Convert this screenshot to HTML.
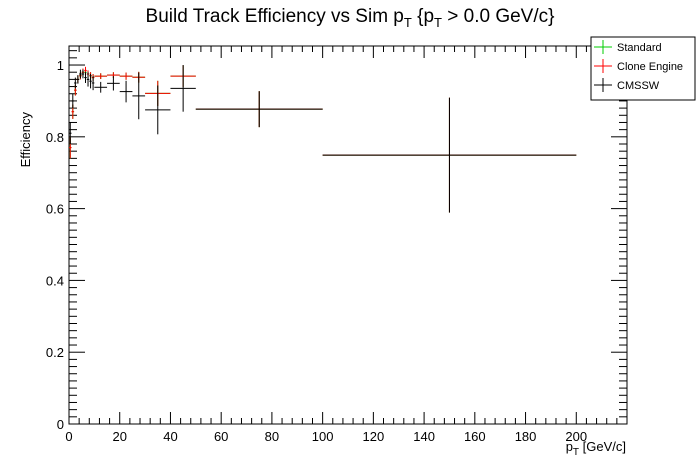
<!DOCTYPE html>
<html><head><meta charset="utf-8"><style>
body{margin:0;background:#fff;}
svg{display:block;font-family:"Liberation Sans",sans-serif;}
</style></head><body>
<svg id="c" width="696" height="472">
<text x="350" y="22" text-anchor="middle" font-size="19">Build Track Efficiency vs Sim p<tspan font-size="13" dy="5">T</tspan><tspan dy="-5"> {p</tspan><tspan font-size="13" dy="5">T</tspan><tspan dy="-5"> &gt; 0.0 GeV/c}</tspan></text>
<text transform="translate(30,112) rotate(-90)" text-anchor="end" font-size="13">Efficiency</text>
<text x="626" y="451" text-anchor="end" font-size="13">p<tspan font-size="10" dy="4">T</tspan><tspan dy="-4"> [GeV/c]</tspan></text>
<g id="axes"></g><g id="marks"></g>
<g>
<rect x="591" y="37" width="104" height="63" fill="#fff" stroke="#000"/>
<g><line x1="594" x2="612" y1="47" y2="47" stroke="#0c0"/><line x1="603" x2="603" y1="40" y2="54" stroke="#0c0"/><text x="617" y="51" font-size="11">Standard</text></g>
<g><line x1="594" x2="612" y1="66" y2="66" stroke="#f00"/><line x1="603" x2="603" y1="59" y2="73" stroke="#f00"/><text x="617" y="70" font-size="11">Clone Engine</text></g>
<g><line x1="594" x2="612" y1="85" y2="85" stroke="#000"/><line x1="603" x2="603" y1="78" y2="92" stroke="#000"/><text x="617" y="89" font-size="11">CMSSW</text></g>
</g>
</svg>
<script>
const binEdges=[0,1,2,3,4,5,6,7,8,9,10,15,20,25,30,40,50,100,200];
const stdVals=[0.77,0.87,0.93,0.96,0.97,0.98,0.98,0.975,0.97,0.965,0.969,0.972,0.969,0.966,0.921,0.969,0.877,0.749];
const stdErr=[0.03,0.02,0.015,0.01,0.01,0.01,0.01,0.01,0.01,0.01,0.008,0.008,0.01,0.015,0.035,0.03,0.05,0.16];
const cloneVals=[0.77,0.87,0.93,0.96,0.97,0.98,0.985,0.975,0.97,0.965,0.969,0.972,0.969,0.966,0.921,0.969,0.877,0.749];
const cloneErr=[0.03,0.02,0.015,0.01,0.01,0.01,0.01,0.01,0.01,0.01,0.008,0.008,0.01,0.015,0.035,0.03,0.05,0.16];
const cmsswVals=[0.81,0.9,0.95,0.96,0.975,0.975,0.965,0.96,0.955,0.95,0.938,0.949,0.926,0.914,0.875,0.935,0.877,0.749];
const cmsswErr=[0.03,0.02,0.015,0.012,0.012,0.012,0.015,0.02,0.02,0.02,0.015,0.02,0.03,0.065,0.068,0.065,0.05,0.16];
const xTicks=[0,20,40,60,80,100,120,140,160,180,200];
const yTicks=[0,0.2,0.4,0.6,0.8,1];
const L=69,R=627,T=46,B=424;
const X=v=>L+(v/220)*(R-L);
const Y=v=>B-(v/1.053)*(B-T);
const NS='http://www.w3.org/2000/svg';
function mk(p,tag,a){const e=document.createElementNS(NS,tag);for(const k in a)e.setAttribute(k,a[k]);p.appendChild(e);return e;}
const ax=document.getElementById('axes');
mk(ax,'rect',{x:L,y:T,width:R-L,height:B-T,fill:'none',stroke:'#000'});
for(let v=0;v<=220;v+=4){const big=v%20===0;const h=big?12:6;
mk(ax,'line',{x1:X(v),x2:X(v),y1:B,y2:B-h,stroke:'#000'});
mk(ax,'line',{x1:X(v),x2:X(v),y1:T,y2:T+h,stroke:'#000'});}
for(let i=0;i<=52;i++){const v=i*0.02;const big=i%10===0;const h=big?16:8;
mk(ax,'line',{x1:L,x2:L+h,y1:Y(v),y2:Y(v),stroke:'#000'});
mk(ax,'line',{x1:R,x2:R-h,y1:Y(v),y2:Y(v),stroke:'#000'});}
xTicks.forEach(t=>{const e=mk(ax,'text',{x:X(t),y:B+17,'text-anchor':'middle','font-size':13});e.textContent=t;

});
yTicks.forEach(t=>{const e=mk(ax,'text',{x:L-5,y:Y(t)+5,'text-anchor':'end','font-size':13});e.textContent=t;

});
const mg=document.getElementById('marks');
function series(vals,errs,col,name){const g=mk(mg,'g',{});


vals.forEach((v,i)=>{const a=binEdges[i],b=binEdges[i+1],c=(a+b)/2;
mk(g,'line',{x1:X(a),x2:X(b),y1:Y(v),y2:Y(v),stroke:col});
mk(g,'line',{x1:X(c),x2:X(c),y1:Y(v-errs[i]),y2:Y(v+errs[i]),stroke:col});});}
series(stdVals,stdErr,'#0c0','series-standard');
series(cloneVals,cloneErr,'#f00','series-clone-engine');
series(cmsswVals,cmsswErr,'#000','series-cmssw');
</script>
</body></html>
